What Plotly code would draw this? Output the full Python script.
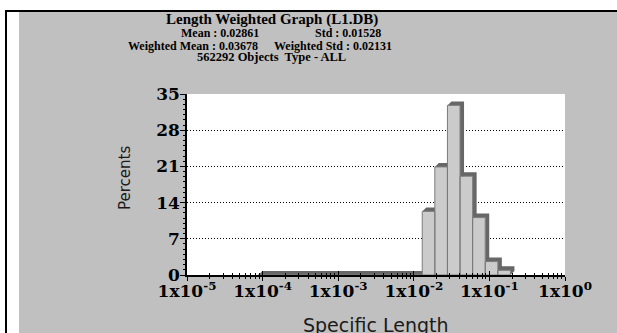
import plotly.graph_objects as go

# Histogram bins: log10 of the lower edge of the first bin and bin width (1/6 decade)
first_edge_log = -4.055
bin_width_log = 1.0 / 6.0

# Percent of total length in each bin
percents = [0.02, 0.02, 0.02, 0.02, 0.02, 0.02, 0.02, 0.02, 0.02, 0.02, 0.02, 0.02, 0.02,
            12.3, 20.9, 32.8, 19.1, 11.1, 2.6, 0.9]

x_tick_vals = [1e-5, 1e-4, 1e-3, 1e-2, 1e-1, 1e0]
x_tick_text = ["1x10<sup>-5</sup>", "1x10<sup>-4</sup>", "1x10<sup>-3</sup>",
               "1x10<sup>-2</sup>", "1x10<sup>-1</sup>", "1x10<sup>0</sup>"]
y_tick_vals = [0, 7, 14, 21, 28, 35]

title_lines = ["Length Weighted Graph (L1.DB)",
               "Mean : 0.02861", "Std : 0.01528",
               "Weighted Mean : 0.03678", "Weighted Std : 0.02131",
               "562292 Objects  Type - ALL"]

# Page geometry (pixels)
W, H = 617, 333
L, R, T, B = 187, 565, 94, 275
PW, PH = R - L, B - T
Y_MAX = 35.0
X_DECADES = 5.0


def px(xp):
    return (xp - L) / PW


def py(yp):
    return (B - yp) / PH


edges = [10 ** (first_edge_log + i * bin_width_log) for i in range(len(percents) + 1)]

# 3D depth of the bars: 4 px right and 4 px up, expressed in data units
depth_x = 10 ** (4.0 / PW * X_DECADES)
depth_y = 4.0 / PH * Y_MAX

shadow_x, shadow_y = [], []
bar_x, bar_y = [], []
for i, h in enumerate(percents):
    x0, x1 = edges[i], edges[i + 1]
    shadow_x += [x0, x0 * depth_x, x1 * depth_x, x1 * depth_x, x1, x1, x0, None]
    shadow_y += [h, h + depth_y, h + depth_y, depth_y, 0, h, h, None]
    bar_x += [x0, x0, x1, x1, x0, None]
    bar_y += [0, h, h, 0, 0, None]

fig = go.Figure()
fig.add_trace(go.Scatter(x=shadow_x, y=shadow_y, mode="lines", fill="toself",
                         fillcolor="#676767", line=dict(width=0, color="#676767"),
                         hoverinfo="skip", showlegend=False))
fig.add_trace(go.Scatter(x=bar_x, y=bar_y, mode="lines", fill="toself",
                         fillcolor="#cbcbcb", line=dict(width=1, color="#7a7a7a"),
                         hoverinfo="skip", showlegend=False))
# empty trace so the overlay axis (inner tick marks) is drawn
fig.add_trace(go.Scatter(x=[], y=[], xaxis="x2", yaxis="y", showlegend=False))

tick_font = dict(family="DejaVu Serif", size=17, color="black", weight="bold")

fig.update_layout(
    width=W, height=H,
    margin=dict(l=L, r=W - R, t=T, b=H - B, pad=0),
    paper_bgcolor="white",
    plot_bgcolor="white",
    showlegend=False,
    xaxis=dict(type="log", range=[-5, 0], tickmode="array",
               tickvals=x_tick_vals, ticktext=x_tick_text,
               ticks="outside", ticklen=4, tickwidth=1, tickcolor="black",
               minor=dict(ticks="outside", ticklen=2, tickwidth=1, tickcolor="black",
                          dtick="D1", showgrid=False),
               showline=True, linecolor="black", linewidth=1.5,
               showgrid=False, zeroline=False, tickfont=tick_font,
               ticklabelstandoff=-4),
    xaxis2=dict(type="log", range=[-5, 0], overlaying="x", anchor="y", side="bottom",
                tickmode="array", tickvals=x_tick_vals,
                ticks="inside", ticklen=4, tickwidth=1, tickcolor="black",
                minor=dict(ticks="inside", ticklen=2, tickwidth=1, tickcolor="black",
                           dtick="D1", showgrid=False),
                showticklabels=False, showline=False, showgrid=False, zeroline=False),
    yaxis=dict(range=[0, Y_MAX], tickmode="array", tickvals=y_tick_vals,
               ticks="outside", ticklen=5, tickwidth=1, tickcolor="black",
               minor=dict(ticks="outside", ticklen=2, tickwidth=1, tickcolor="black",
                          dtick=1, showgrid=False),
               showline=True, linecolor="black", linewidth=1.5,
               showgrid=True, gridcolor="black", gridwidth=1, griddash="1px,2px",
               zeroline=False, tickfont=tick_font, ticklabelstandoff=-3),
)

# Framing: gray panel, white plotting area, black border on the left and top
fig.add_shape(type="rect", xref="paper", yref="paper", layer="below",
              x0=px(19), x1=px(W), y0=py(H), y1=py(12),
              fillcolor="#c0c0c0", line=dict(width=0))
fig.add_shape(type="rect", xref="paper", yref="paper", layer="below",
              x0=0, x1=1, y0=0, y1=1, fillcolor="white", line=dict(width=0))
fig.add_shape(type="line", xref="paper", yref="paper",
              x0=px(6), x1=px(6), y0=py(10), y1=py(H), line=dict(color="black", width=2))
fig.add_shape(type="line", xref="paper", yref="paper",
              x0=px(5), x1=px(W), y0=py(11), y1=py(11), line=dict(color="black", width=2))

heads = [
    (title_lines[0], 272, 20, 15),
    (title_lines[1], 220, 33, 12),
    (title_lines[2], 348, 33, 12),
    (title_lines[3], 193, 45.5, 12),
    (title_lines[4], 333, 45.5, 12),
    (title_lines[5], 271, 57.5, 12.5),
]
for text, cx, cy, size in heads:
    fig.add_annotation(text=text, xref="paper", yref="paper", x=px(cx), y=py(cy),
                       xanchor="center", yanchor="middle", showarrow=False,
                       font=dict(family="Liberation Serif", size=size, color="black",
                                 weight="bold"))

fig.add_annotation(text="Percents", xref="paper", yref="paper", x=px(125), y=py(178),
                   xanchor="center", yanchor="middle", textangle=-90, showarrow=False,
                   font=dict(family="DejaVu Sans", size=15, color="#1a1a1a"))
fig.add_annotation(text="Specific Length", xref="paper", yref="paper", x=px(376), y=py(312),
                   xanchor="center", yanchor="top", showarrow=False,
                   font=dict(family="DejaVu Sans", size=19, color="#1a1a1a"))

fig.write_html("out.html")
